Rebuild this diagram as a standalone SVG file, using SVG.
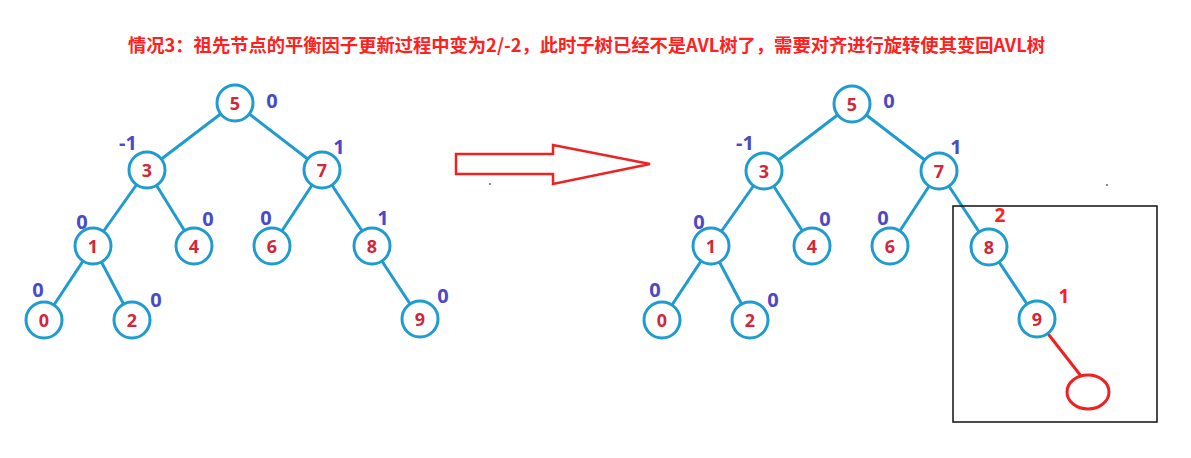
<svg xmlns="http://www.w3.org/2000/svg" width="1191" height="458" viewBox="0 0 1191 458">
<style>
.edge{stroke:#1f9bd0;stroke-width:3;fill:none;stroke-linecap:round}
.node circle{fill:#fff;stroke:#1f9bd0;stroke-width:3}
.node text{font-family:"Noto Sans","Liberation Sans",sans-serif;font-weight:bold;font-size:18px;fill:#d0283a;text-anchor:middle}
.bf{font-family:"Noto Sans","Liberation Sans",sans-serif;font-weight:bold;font-size:20px;fill:#4a4ac8;text-anchor:middle}
.bfr{font-family:"Noto Sans","Liberation Sans",sans-serif;font-weight:bold;font-size:19px;fill:#ff2020;text-anchor:middle}
.title{font-family:"Noto Sans CJK SC","Noto Sans",sans-serif;font-weight:bold;font-size:18px;fill:#ff2020}
</style>
<rect width="1191" height="458" fill="#fff"/>
<text class="title" x="128" y="52" textLength="917" lengthAdjust="spacingAndGlyphs">情况3：祖先节点的平衡因子更新过程中变为2/-2，此时子树已经不是AVL树了，需要对齐进行旋转使其变回AVL树</text>

<g id="connectors">
  <!-- left tree -->
  <line class="edge" x1="235" y1="103" x2="147" y2="170"/>
  <line class="edge" x1="235" y1="103" x2="322" y2="170"/>
  <line class="edge" x1="147" y1="170" x2="93" y2="246"/>
  <line class="edge" x1="147" y1="170" x2="194" y2="246"/>
  <line class="edge" x1="322" y1="170" x2="272" y2="246"/>
  <line class="edge" x1="322" y1="170" x2="372" y2="246"/>
  <line class="edge" x1="93" y1="246" x2="44" y2="320"/>
  <line class="edge" x1="93" y1="246" x2="132" y2="320"/>
  <line class="edge" x1="372" y1="246" x2="420" y2="319"/>
  <!-- right tree -->
  <line class="edge" x1="852" y1="104" x2="764" y2="171"/>
  <line class="edge" x1="852" y1="104" x2="939" y2="171"/>
  <line class="edge" x1="764" y1="171" x2="711" y2="246"/>
  <line class="edge" x1="764" y1="171" x2="812" y2="246"/>
  <line class="edge" x1="939" y1="171" x2="890" y2="246"/>
  <line class="edge" x1="939" y1="171" x2="989" y2="247"/>
  <line class="edge" x1="711" y1="246" x2="662" y2="320"/>
  <line class="edge" x1="711" y1="246" x2="750" y2="320"/>
  <line class="edge" x1="989" y1="247" x2="1037" y2="319"/>
  <line x1="1049" y1="335" x2="1081" y2="376" stroke="#ee2222" stroke-width="3" stroke-linecap="round"/>
</g>

<g id="arrow">
  <polygon points="456,154 553,154 553,145 650,164 553,184 553,174 456,174" fill="#fff" stroke="#ee2222" stroke-width="2.5" stroke-linejoin="miter"/>
</g>
<circle cx="490" cy="184" r="1" fill="#666"/>
<circle cx="1107" cy="185" r="1" fill="#666"/>

<g id="box">
  <rect x="953" y="206" width="204" height="216" fill="none" stroke="#111" stroke-width="1.5"/>
</g>

<!-- left tree nodes -->
<g id="L5" class="node"><circle cx="235" cy="103" r="18"/><text x="235" y="109.5">5</text></g>
<g id="L3" class="node"><circle cx="147" cy="170" r="18"/><text x="147" y="176.5">3</text></g>
<g id="L7" class="node"><circle cx="322" cy="170" r="18"/><text x="322" y="176.5">7</text></g>
<g id="L1" class="node"><circle cx="93" cy="246" r="18"/><text x="93" y="252.5">1</text></g>
<g id="L4" class="node"><circle cx="194" cy="246" r="18"/><text x="194" y="252.5">4</text></g>
<g id="L6" class="node"><circle cx="272" cy="246" r="18"/><text x="272" y="252.5">6</text></g>
<g id="L8" class="node"><circle cx="372" cy="246" r="18"/><text x="372" y="252.5">8</text></g>
<g id="L0" class="node"><circle cx="44" cy="320" r="18"/><text x="44" y="326.5">0</text></g>
<g id="L2" class="node"><circle cx="132" cy="320" r="18"/><text x="132" y="326.5">2</text></g>
<g id="L9" class="node"><circle cx="420" cy="319" r="18"/><text x="420" y="325.5">9</text></g>

<g id="left-bf">
  <text class="bf" x="272" y="108">0</text>
  <text class="bf" x="128" y="150">-1</text>
  <text class="bf" x="339" y="154">1</text>
  <text class="bf" x="82" y="229">0</text>
  <text class="bf" x="208" y="226">0</text>
  <text class="bf" x="266" y="225">0</text>
  <text class="bf" x="383" y="225">1</text>
  <text class="bf" x="38" y="297">0</text>
  <text class="bf" x="156" y="307">0</text>
  <text class="bf" x="443" y="303">0</text>
</g>

<!-- right tree nodes -->
<g id="R5" class="node"><circle cx="852" cy="104" r="18"/><text x="852" y="110.5">5</text></g>
<g id="R3" class="node"><circle cx="764" cy="171" r="18"/><text x="764" y="177.5">3</text></g>
<g id="R7" class="node"><circle cx="939" cy="171" r="18"/><text x="939" y="177.5">7</text></g>
<g id="R1" class="node"><circle cx="711" cy="246" r="18"/><text x="711" y="252.5">1</text></g>
<g id="R4" class="node"><circle cx="812" cy="246" r="18"/><text x="812" y="252.5">4</text></g>
<g id="R6" class="node"><circle cx="890" cy="246" r="18"/><text x="890" y="252.5">6</text></g>
<g id="R8" class="node"><circle cx="989" cy="247" r="18"/><text x="989" y="253.5">8</text></g>
<g id="R0" class="node"><circle cx="662" cy="320" r="18"/><text x="662" y="326.5">0</text></g>
<g id="R2" class="node"><circle cx="750" cy="320" r="18"/><text x="750" y="326.5">2</text></g>
<g id="R9" class="node"><circle cx="1037" cy="319" r="18"/><text x="1037" y="325.5">9</text></g>
<g id="Rnew"><ellipse cx="1088" cy="392" rx="21" ry="17" fill="#fff" stroke="#ee2222" stroke-width="3"/></g>

<g id="right-bf">
  <text class="bf" x="889" y="108">0</text>
  <text class="bf" x="745" y="150">-1</text>
  <text class="bf" x="956" y="154">1</text>
  <text class="bf" x="699" y="229">0</text>
  <text class="bf" x="825" y="226">0</text>
  <text class="bf" x="883" y="225">0</text>
  <text class="bf" x="655" y="297">0</text>
  <text class="bf" x="773" y="307">0</text>
  <text class="bfr" x="1000" y="222">2</text>
  <text class="bfr" x="1064" y="303">1</text>
</g>
</svg>
